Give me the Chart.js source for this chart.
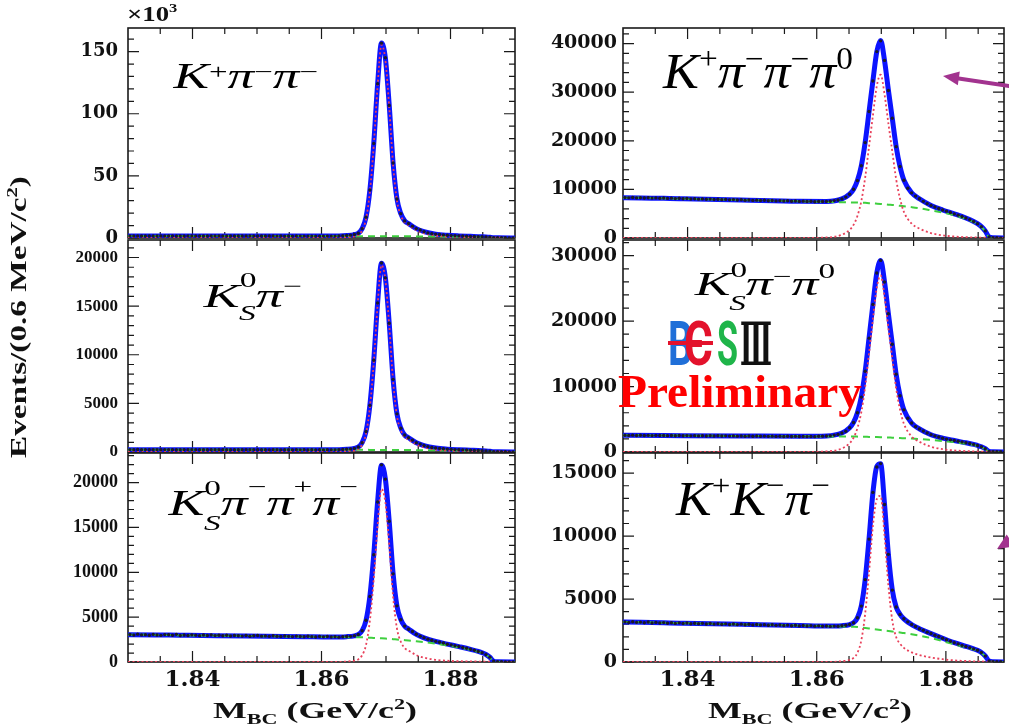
<!DOCTYPE html>
<html lang="en">
<head>
<meta charset="UTF-8">
<title>M_BC distributions of single-tag D- candidates</title>
<script src="https://cdn.jsdelivr.net/npm/chart.js@4.4.1/dist/chart.umd.min.js"></script>
<style>
  body { margin: 0; background: #fff; }
  #page { position: relative; width: 1009px; height: 728px; overflow: hidden; background: #fff; }
  #page canvas { position: absolute; }
  #ann { position: absolute; left: 0; top: 0; pointer-events: none; }
  .proc { font-family: "Liberation Serif", "Times New Roman", serif; font-style: italic; fill: #000; }
  .proc .up, .proc .dn { font-size: 62%; }
  .proc .up { font-style: normal; }
  .axt { font-family: "Liberation Serif", "Times New Roman", serif; font-weight: bold; fill: #111; }
  .small { font-size: 62%; }
</style>
</head>
<body>
<div id="page">
  <svg id="ann" width="1009" height="728">
    <!-- decay mode labels -->
    <g data-x="172" data-y="88" data-w="146"><text class="proc" font-size="35">K<tspan class="up" dy="-9">+</tspan><tspan dy="9">π</tspan><tspan class="up" dy="-9">−</tspan><tspan dy="9">π</tspan><tspan class="up" dy="-9">−</tspan></text></g>
    <g data-x="662" data-y="88" data-w="191"><text class="proc" font-size="50">K<tspan class="up" dy="-19">+</tspan><tspan dy="19">π</tspan><tspan class="up" dy="-19">−</tspan><tspan dy="19">π</tspan><tspan class="up" dy="-19">−</tspan><tspan dy="19">π</tspan><tspan class="up" dy="-19">0</tspan></text></g>
    <g data-x="202" data-y="307" data-w="100"><text class="proc" font-size="34">K<tspan class="up" dy="-20">0</tspan><tspan class="dn" dx="-11" dy="33">S</tspan><tspan dy="-13">π</tspan><tspan class="up" dy="-14">−</tspan></text></g>
    <g data-x="693" data-y="295" data-w="142"><text class="proc" font-size="33">K<tspan class="up" dy="-18">0</tspan><tspan class="dn" dx="-11" dy="33">S</tspan><tspan dy="-15">π</tspan><tspan class="up" dy="-12">−</tspan><tspan dy="12">π</tspan><tspan class="up" dy="-17">0</tspan></text></g>
    <g data-x="167" data-y="515" data-w="191"><text class="proc" font-size="35">K<tspan class="up" dy="-20">0</tspan><tspan class="dn" dx="-11" dy="35">S</tspan><tspan dy="-15">π</tspan><tspan class="up" dy="-21">−</tspan><tspan dy="21">π</tspan><tspan class="up" dy="-21">+</tspan><tspan dy="21">π</tspan><tspan class="up" dy="-21">−</tspan></text></g>
    <g data-x="675" data-y="515" data-w="155"><text class="proc" font-size="48">K<tspan class="up" dy="-20">+</tspan><tspan dy="20">K</tspan><tspan class="up" dy="-20">−</tspan><tspan dy="20">π</tspan><tspan class="up" dy="-20">−</tspan></text></g>

    <!-- axis titles -->
    <g data-x="127" data-y="21" data-w="51"><text class="axt" font-size="21">×10<tspan class="small" dy="-9">3</tspan></text></g>
    <g data-x="26" data-y="458" data-r="-90" data-w="282"><text class="axt" font-size="24">Events/(0.6 MeV/c<tspan class="small" dy="-9">2</tspan><tspan dy="9">)</tspan></text></g>
    <g data-x="213" data-y="718" data-w="204"><text class="axt" font-size="23">M<tspan class="small" dy="6">BC</tspan><tspan dy="-6">&#160;(GeV/c</tspan><tspan class="small" dy="-9">2</tspan><tspan dy="9">)</tspan></text></g>
    <g data-x="708" data-y="718" data-w="204"><text class="axt" font-size="23">M<tspan class="small" dy="6">BC</tspan><tspan dy="-6">&#160;(GeV/c</tspan><tspan class="small" dy="-9">2</tspan><tspan dy="9">)</tspan></text></g>

    <!-- experiment logo and status -->
    <g data-x="668" data-y="365" data-w="25"><text font-family="Roboto" font-weight="bold" font-size="62" fill="#1f6fd8">B</text></g>
    <g data-x="684" data-y="365" data-w="29"><text font-family="Roboto" font-weight="bold" font-size="62" fill="#e3122c">Є</text></g>
    <line x1="668" y1="343" x2="713" y2="343" stroke="#e3122c" stroke-width="4"/>
    <g data-x="717" data-y="365" data-w="21"><text font-family="Roboto" font-weight="bold" font-size="62" fill="#1fb54a">S</text></g>
    <g data-x="740" data-y="365" data-w="32"><text font-family="DejaVu Serif" font-weight="bold" font-size="60" fill="#111">Ⅲ</text></g>
    <g data-x="618" data-y="407" data-w="244"><text font-family="Liberation Serif" font-weight="bold" font-size="46" fill="#ff0000">Preliminary</text></g>

    <!-- pointer arrows -->
    <line x1="1015" y1="87" x2="957" y2="78.3" stroke="#a2338f" stroke-width="4"/>
    <polygon points="943,76 959.8,71.4 957.8,85.2" fill="#a2338f"/>
    <polygon points="997,549 1006.7,534.5 1014.3,546.3" fill="#a2338f"/>
  </svg>
</div>
<script>
// histogram binning: 0.6 MeV bins from 1.83 to 1.89 GeV
const binLo = 1.83, binWidth = 0.0006, nBins = 100;
const binCenters = [];
for (let i = 0; i < nBins; i++) binCenters.push(+(binLo + (i + 0.5) * binWidth).toFixed(4));

// sampling points of the fit curves
const curveX = [1.8300, 1.8303, 1.8393, 1.8483, 1.8573, 1.8615, 1.8639, 1.8651, 1.8657, 1.8663,
  1.8669, 1.8675, 1.8681, 1.8687, 1.8693, 1.8699, 1.8705, 1.8711, 1.8717, 1.8723,
  1.8729, 1.8735, 1.8747, 1.8759, 1.8777, 1.8795, 1.8813, 1.8831, 1.8843, 1.8849,
  1.8855, 1.8861, 1.8867, 1.8873, 1.8897, 1.8900];

const xMajorTicks = [1.84, 1.86, 1.88];
const xMinorTicks = [1.835, 1.84, 1.845, 1.85, 1.855, 1.86, 1.865, 1.87, 1.875, 1.88, 1.885];

// D- -> K+ pi- pi-
const kpipiData = [
  1652, 1638, 1661, 1645, 1649, 1630, 1655, 1641, 1627, 1644,
  1633, 1648, 1620, 1639, 1615, 1628, 1611, 1634, 1606, 1622,
  1598, 1617, 1603, 1590, 1611, 1584, 1599, 1588, 1573, 1592,
  1570, 1584, 1562, 1577, 1559, 1568, 1553, 1566, 1549, 1561,
  1545, 1556, 1538, 1552, 1531, 1546, 1527, 1540, 1522, 1535,
  1518, 1530, 1524, 1512, 1670, 1830, 1975, 2280, 2760, 3810,
  7540, 16790, 38580, 76020, 124100, 156800, 145100, 106700, 60410, 31350,
  19610, 13760, 11640, 9520, 7560, 6420, 5170, 4120, 3560, 3120,
  2790, 2480, 2180, 1950, 1830, 1690, 1580, 1440, 1320, 1170,
  1090, 950, 800, 570, 290, 220, 190, 150, 120, 95];
const kpipiSig = [0, 0, 0, 0, 0, 0, 470, 1240, 2330, 6060, 15240, 37160, 74480, 122530, 155500, 143530, 105430, 58930, 30010, 18190, 12440, 10260, 6220, 3890, 1940, 1120, 715, 513, 420, 373, 327, 280, 249, 218, 93, 93];
const kpipiBkg = [1650, 1650, 1610, 1575, 1540, 1520, 1510, 1505, 1502, 1500, 1490, 1485, 1470, 1460, 1450, 1440, 1425, 1410, 1395, 1380, 1360, 1340, 1305, 1260, 1170, 1070, 960, 810, 675, 585, 465, 285, 30, 0, 0, 0];
const kpipiTotal = [1650, 1650, 1610, 1575, 1540, 1520, 1980, 2745, 3832, 7560, 16730, 38645, 75950, 123990, 156950, 144970, 106855, 60340, 31405, 19570, 13800, 11600, 7525, 5150, 3110, 2190, 1675, 1323, 1095, 958, 792, 565, 279, 218, 93, 93];
const kpipiYTicks = [0, 50000, 100000, 150000];

// D- -> K+ pi- pi- pi0
const kpipipi0Data = [
  8310, 8262, 8341, 8248, 8295, 8219, 8287, 8203, 8254, 8176,
  8221, 8148, 8195, 8102, 8170, 8063, 8119, 8032, 8088, 7990,
  8041, 7958, 8005, 7921, 7973, 7886, 7940, 7851, 7902, 7813,
  7856, 7772, 7830, 7739, 7788, 7705, 7752, 7668, 7721, 7632,
  7687, 7598, 7655, 7560, 7620, 7531, 7582, 7500, 7553, 7468,
  7505, 7522, 7531, 7575, 7690, 7805, 8045, 8410, 9002, 10030,
  11810, 14860, 19630, 26010, 32290, 38350, 40560, 36540, 30350, 24620,
  18790, 14710, 11890, 10240, 9290, 8620, 8070, 7540, 7080, 6710,
  6390, 6080, 5770, 5520, 5250, 4960, 4700, 4420, 4110, 3780,
  3400, 2950, 2340, 1460, 210, 52, 40, 33, 27, 20];
const kpipipi0Sig = [0, 0, 0, 0, 0, 101, 672, 1680, 2688, 4536, 7560, 12432, 18816, 25200, 31248, 33600, 29568, 23520, 17808, 12096, 8064, 5376, 2957, 1949, 1008, 538, 302, 175, 121, 101, 84, 67, 57, 47, 20, 20];
const kpipipi0Bkg = [8300, 8300, 8050, 7800, 7550, 7433, 7367, 7333, 7317, 7300, 7264, 7227, 7154, 7118, 7066, 7008, 6935, 6862, 6789, 6716, 6628, 6534, 6351, 6132, 5694, 5220, 4672, 3942, 3285, 2847, 2263, 1387, 146, 0, 0, 0];
const kpipipi0Total = [8300, 8300, 8050, 7800, 7550, 7534, 8039, 9013, 10005, 11836, 14824, 19659, 25970, 32318, 38314, 40608, 36503, 30382, 24597, 18812, 14692, 11910, 9308, 8081, 6702, 5758, 4974, 4117, 3406, 2948, 2347, 1454, 203, 47, 20, 20];
const kpipipi0YTicks = [0, 10000, 20000, 30000, 40000];

// D- -> KS pi-
const kspiData = [
  245, 238, 250, 236, 247, 241, 233, 244, 239, 248,
  236, 242, 231, 240, 245, 234, 238, 229, 241, 235,
  232, 239, 228, 236, 242, 230, 226, 235, 229, 233,
  227, 236, 224, 231, 229, 238, 223, 230, 226, 221,
  232, 225, 219, 228, 223, 230, 218, 226, 221, 224,
  217, 226, 222, 219, 238, 250, 281, 318, 372, 512,
  962, 2110, 4795, 9430, 15320, 19440, 17910, 13240, 7470, 3925,
  2441, 1745, 1458, 1220, 962, 810, 668, 548, 470, 415,
  372, 338, 296, 270, 248, 231, 214, 198, 181, 166,
  150, 134, 106, 79, 37, 29, 24, 19, 15, 12];
const kspiSig = [0, 0, 0, 0, 0, 0, 58, 154, 288, 749, 1882, 4589, 9197, 15130, 19200, 17722, 13018, 7277, 3706, 2246, 1536, 1267, 768, 480, 240, 138, 88, 63, 52, 46, 40, 35, 31, 27, 12, 12];
const kspiBkg = [242, 242, 236, 231, 226, 223, 221, 221, 220, 220, 219, 218, 216, 215, 213, 211, 209, 207, 205, 202, 200, 197, 191, 185, 172, 157, 141, 119, 99, 86, 68, 42, 4, 0, 0, 0];
const kspiTotal = [242, 242, 236, 231, 226, 223, 279, 375, 508, 969, 2101, 4807, 9413, 15345, 19413, 17933, 13227, 7484, 3911, 2448, 1736, 1464, 959, 665, 412, 295, 229, 182, 151, 132, 108, 77, 35, 27, 12, 12];
const kspiYTicks = [0, 5000, 10000, 15000, 20000];

// D- -> KS pi- pi0
const kspipi0Data = [
  2561, 2538, 2572, 2529, 2553, 2517, 2548, 2506, 2541, 2512,
  2530, 2497, 2524, 2489, 2515, 2478, 2509, 2471, 2498, 2463,
  2490, 2455, 2481, 2446, 2475, 2438, 2466, 2430, 2459, 2421,
  2452, 2413, 2445, 2404, 2437, 2397, 2428, 2389, 2420, 2381,
  2411, 2374, 2402, 2366, 2395, 2359, 2387, 2351, 2378, 2344,
  2398, 2421, 2455, 2498, 2580, 2690, 2905, 3168, 3712, 4505,
  6010, 8390, 12340, 17400, 22560, 27360, 29280, 25970, 21130, 16470,
  11900, 8600, 6440, 5160, 4440, 3880, 3530, 3200, 2900, 2650,
  2460, 2300, 2110, 1970, 1860, 1750, 1640, 1530, 1410, 1290,
  1160, 1000, 800, 505, 95, 40, 33, 27, 22, 16];
const kspipi0Sig = [0, 0, 0, 0, 0, 81, 540, 1350, 2160, 3645, 6075, 9990, 15120, 20250, 25110, 27000, 23760, 18900, 14310, 9720, 6480, 4320, 2376, 1566, 810, 432, 243, 140, 97, 81, 68, 54, 46, 38, 16, 16];
const kspipi0Bkg = [2550, 2550, 2500, 2450, 2400, 2377, 2363, 2357, 2353, 2350, 2338, 2327, 2303, 2291, 2275, 2256, 2233, 2209, 2186, 2162, 2134, 2103, 2045, 1974, 1833, 1680, 1504, 1269, 1058, 917, 729, 447, 47, 0, 0, 0];
const kspipi0Total = [2550, 2550, 2500, 2450, 2400, 2458, 2903, 3707, 4513, 5995, 8413, 12317, 17423, 22541, 27385, 29256, 25993, 21109, 16496, 11882, 8614, 6423, 4421, 3540, 2643, 2112, 1747, 1409, 1155, 998, 797, 501, 93, 38, 16, 16];
const kspipi0YTicks = [0, 10000, 20000, 30000];

// D- -> KS pi- pi+ pi-
const kspipipiData = [
  3062, 2998, 3105, 3021, 3048, 2987, 3076, 3012, 2969, 3054,
  3031, 2975, 3083, 2962, 3010, 2948, 3027, 2991, 2936, 3002,
  2957, 3019, 2941, 2986, 2928, 2975, 2903, 2961, 2932, 2889,
  2947, 2876, 2921, 2954, 2883, 2910, 2862, 2931, 2874, 2847,
  2905, 2861, 2832, 2889, 2843, 2812, 2871, 2826, 2795, 2850,
  2803, 2838, 2779, 2815, 2768, 2821, 2835, 2861, 2928, 3068,
  3490, 4648, 7295, 11960, 17840, 21980, 20390, 15690, 9830, 6260,
  4710, 4002, 3651, 3398, 3095, 2880, 2712, 2545, 2421, 2304,
  2198, 2110, 1987, 1905, 1812, 1725, 1618, 1527, 1418, 1305,
  1171, 1043, 826, 541, 92, 31, 22, 18, 14, 10];
const kspipipiSig = [0, 0, 0, 0, 0, 0, 58, 154, 290, 753, 1891, 4613, 9245, 15208, 19300, 17814, 13085, 7315, 3725, 2258, 1544, 1274, 772, 483, 241, 139, 89, 64, 52, 46, 41, 35, 31, 27, 12, 12];
const kspipipiBkg = [3050, 3050, 2975, 2900, 2825, 2790, 2770, 2760, 2755, 2750, 2731, 2709, 2687, 2662, 2635, 2607, 2577, 2544, 2508, 2475, 2437, 2398, 2310, 2214, 2049, 1856, 1623, 1348, 1128, 990, 798, 495, 55, 0, 0, 0];
const kspipipiTotal = [3050, 3050, 2975, 2900, 2825, 2790, 2828, 2914, 3045, 3503, 4622, 7322, 11932, 17870, 21935, 20421, 15662, 9859, 6233, 4733, 3981, 3672, 3082, 2697, 2290, 1995, 1712, 1412, 1180, 1036, 839, 530, 86, 27, 12, 12];
const kspipipiYTicks = [0, 5000, 10000, 15000, 20000];

// D- -> K+ K- pi-
const kkpiData = [
  3185, 3142, 3201, 3150, 3168, 3119, 3176, 3103, 3147, 3098,
  3131, 3082, 3120, 3067, 3109, 3054, 3098, 3041, 3079, 3036,
  3068, 3021, 3057, 3009, 3041, 2996, 3032, 2983, 3018, 2972,
  3007, 2958, 2996, 2945, 2981, 2933, 2968, 2921, 2953, 2909,
  2941, 2897, 2929, 2882, 2915, 2869, 2903, 2858, 2889, 2846,
  2872, 2838, 2855, 2829, 2851, 2845, 2887, 2919, 2982, 3118,
  3512, 4440, 6545, 9760, 13470, 15490, 15760, 12510, 8550, 5710,
  4370, 3780, 3430, 3190, 2975, 2820, 2650, 2520, 2370, 2260,
  2130, 2020, 1890, 1770, 1650, 1530, 1430, 1320, 1235, 1140,
  1040, 930, 755, 470, 75, 25, 19, 15, 12, 9];
const kkpiSig = [0, 0, 0, 0, 0, 0, 66, 172, 330, 726, 1716, 3828, 7128, 10824, 12936, 13200, 10032, 6072, 3300, 1980, 1452, 1122, 766, 554, 356, 224, 132, 79, 55, 46, 40, 33, 26, 22, 9, 9];
const kkpiBkg = [3170, 3170, 3080, 2990, 2900, 2850, 2820, 2805, 2795, 2780, 2740, 2700, 2660, 2620, 2580, 2540, 2500, 2460, 2420, 2380, 2340, 2300, 2200, 2090, 1900, 1660, 1400, 1160, 990, 880, 710, 440, 45, 0, 0, 0];
const kkpiTotal = [3170, 3170, 3080, 2990, 2900, 2850, 2886, 2977, 3125, 3506, 4456, 6528, 9788, 13444, 15516, 15740, 12532, 8532, 5720, 4360, 3792, 3422, 2966, 2644, 2256, 1884, 1532, 1239, 1045, 926, 750, 473, 71, 22, 9, 9];
const kkpiYTicks = [0, 5000, 10000, 15000];

// pad layout (plot-area pixels)
const colLeft = [128, 623], colWidth = [387, 381], colXMax = [1.89, 1.889];
const rowTop = [28, 240, 453], rowHeight = [210, 212, 209];
const axisW = 72, padTop = 14, padRight = 6;

const fontTopLeft = { family: "'DejaVu Serif'", weight: 'bold', size: 18 };
const fontLeft = { family: "'Liberation Serif'", weight: 'bold', size: 17 };
const fontLeftLow = { family: "'Liberation Serif'", weight: 'bold', size: 18 };
const fontRight = { family: "'DejaVu Serif'", weight: 'bold', size: 19 };
const fontX = { family: "'DejaVu Serif'", weight: 'bold', size: 23 };

const panels = [
  { col: 0, row: 0, data: kpipiData, sig: kpipiSig, bkg: kpipiBkg, total: kpipiTotal, yMax: 169000, yTicks: kpipiYTicks, yStep: 50000, yMinor: 10000, thousands: true, font: fontTopLeft },
  { col: 1, row: 0, data: kpipipi0Data, sig: kpipipi0Sig, bkg: kpipipi0Bkg, total: kpipipi0Total, yMax: 43200, yTicks: kpipipi0YTicks, yStep: 10000, yMinor: 2000, font: fontRight },
  { col: 0, row: 1, data: kspiData, sig: kspiSig, bkg: kspiBkg, total: kspiTotal, yMax: 21800, yTicks: kspiYTicks, yStep: 5000, yMinor: 1000, font: fontLeft },
  { col: 1, row: 1, data: kspipi0Data, sig: kspipi0Sig, bkg: kspipi0Bkg, total: kspipi0Total, yMax: 32400, yTicks: kspipi0YTicks, yStep: 10000, yMinor: 2000, font: fontRight },
  { col: 0, row: 2, data: kspipipiData, sig: kspipipiSig, bkg: kspipipiBkg, total: kspipipiTotal, yMax: 23300, yTicks: kspipipiYTicks, yStep: 5000, yMinor: 1000, font: fontLeftLow },
  { col: 1, row: 2, data: kkpiData, sig: kkpiSig, bkg: kkpiBkg, total: kkpiTotal, yMax: 16600, yTicks: kkpiYTicks, yStep: 5000, yMinor: 1000, font: fontRight }
];

const pts = (xs, ys) => xs.map((x, i) => ({ x: x, y: ys[i] }));

// ROOT-style frame with inward ticks on all four sides
const frameTicks = {
  id: 'frameTicks',
  beforeDatasetsDraw(chart) {
    const o = chart.options.plugins.frameTicks;
    const { ctx, chartArea: a } = chart;
    const xs = chart.scales.x, ys = chart.scales.y;
    ctx.save();
    ctx.strokeStyle = '#1a1a1a';
    ctx.lineWidth = 1.2;
    ctx.beginPath();
    xMinorTicks.forEach(v => {
      const px = xs.getPixelForValue(v);
      const len = xMajorTicks.includes(v) ? 11 : 6;
      ctx.moveTo(px, a.bottom); ctx.lineTo(px, a.bottom - len);
      ctx.moveTo(px, a.top); ctx.lineTo(px, a.top + len);
    });
    for (let v = 0; v <= o.yMax; v += o.yMinor) {
      const py = ys.getPixelForValue(v);
      const len = v % o.yStep === 0 ? 11 : 6;
      ctx.moveTo(a.left, py); ctx.lineTo(a.left + len, py);
      ctx.moveTo(a.right, py); ctx.lineTo(a.right - len, py);
    }
    ctx.stroke();
    ctx.lineWidth = 1.6;
    ctx.strokeRect(a.left, a.top, a.right - a.left, a.bottom - a.top);
    ctx.restore();
  }
};

const page = document.getElementById('page');
const svg = document.getElementById('ann');

panels.forEach(p => {
  const plotW = colWidth[p.col], plotH = rowHeight[p.row];
  const xAxisH = p.row === 2 ? 36 : 14;
  const cv = document.createElement('canvas');
  cv.width = axisW + plotW + padRight;
  cv.height = padTop + plotH + xAxisH;
  cv.style.left = (colLeft[p.col] - axisW) + 'px';
  cv.style.top = (rowTop[p.row] - padTop) + 'px';
  page.insertBefore(cv, svg);

  new Chart(cv, {
    type: 'scatter',
    data: {
      datasets: [
        { label: 'data', data: pts(binCenters, p.data), pointRadius: 1.7, pointBackgroundColor: '#1a1a2a', pointBorderWidth: 0, order: 0 },
        { label: 'signal', data: pts(curveX, p.sig), showLine: true, pointRadius: 0, borderColor: '#e8405a', borderWidth: 1.8, borderDash: [2, 2.5], cubicInterpolationMode: 'monotone', order: 1 },
        { label: 'background', data: pts(curveX, p.bkg), showLine: true, pointRadius: 0, borderColor: '#3fcf3f', borderWidth: 2, borderDash: [7, 5], cubicInterpolationMode: 'monotone', order: 2 },
        { label: 'fit', data: pts(curveX, p.total), showLine: true, pointRadius: 0, borderColor: 'rgb(12,20,255)', borderWidth: 5, cubicInterpolationMode: 'monotone', order: 3 }
      ]
    },
    options: {
      responsive: false,
      animation: false,
      devicePixelRatio: 1,
      layout: { padding: { top: padTop, right: padRight, left: 0, bottom: 0 } },
      plugins: {
        legend: { display: false },
        tooltip: { enabled: false },
        frameTicks: { yMax: p.yMax, yStep: p.yStep, yMinor: p.yMinor }
      },
      scales: {
        x: {
          type: 'linear', min: binLo, max: colXMax[p.col],
          afterBuildTicks: s => { s.ticks = xMajorTicks.map(v => ({ value: v })); },
          afterFit: s => { s.height = xAxisH; s.paddingLeft = 0; s.paddingRight = 0; },
          ticks: { display: p.row === 2, font: fontX, color: '#111', padding: 4, autoSkip: false, maxRotation: 0, callback: v => v.toFixed(2) },
          grid: { display: false, drawTicks: false },
          border: { display: false }
        },
        y: {
          min: 0, max: p.yMax,
          afterBuildTicks: s => { s.ticks = p.yTicks.map(v => ({ value: v })); },
          afterFit: s => { s.width = axisW; s.paddingTop = 0; s.paddingBottom = 0; },
          ticks: { font: p.font, color: '#111', padding: p.col === 0 ? 10 : 6, autoSkip: false, callback: v => p.thousands ? String(v / 1000) : String(v) },
          grid: { display: false, drawTicks: false },
          border: { display: false }
        }
      }
    },
    plugins: [frameTicks]
  });
});

// stretch each annotation to the width it occupies on the slide
svg.querySelectorAll('g[data-w]').forEach(g => {
  const t = g.querySelector('text');
  const bb = t.getBBox();
  const s = +g.dataset.w / bb.width;
  const r = +(g.dataset.r || 0);
  g.setAttribute('transform', `translate(${g.dataset.x},${g.dataset.y}) rotate(${r}) scale(${s},1) translate(${-bb.x},0)`);
});
</script>
</body>
</html>
